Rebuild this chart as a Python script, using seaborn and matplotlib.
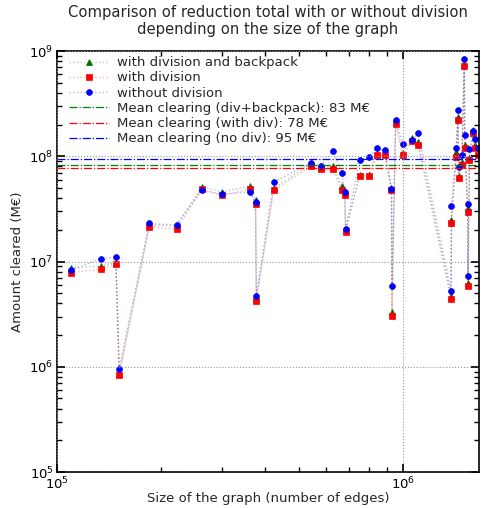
import numpy as np
import pandas as pd
import matplotlib
matplotlib.use("Agg")
import matplotlib.pyplot as plt
import seaborn as sns

# ---- data ----
edges = [1.097e5, 1.337e5, 1.48e5, 1.513e5, 1.848e5, 2.216e5, 2.62e5, 3.0e5,
         3.61e5, 3.75e5, 3.77e5, 4.23e5, 5.44e5, 5.78e5, 6.28e5, 6.67e5,
         6.79e5, 6.83e5, 7.5e5, 7.96e5, 8.4e5, 8.87e5, 9.27e5, 9.30e5,
         9.53e5, 1.0e6, 1.06e6, 1.107e6, 1.378e6, 1.382e6, 1.426e6, 1.442e6,
         1.449e6, 1.481e6, 1.505e6, 1.51e6, 1.538e6, 1.543e6, 1.558e6,
         1.600e6, 1.618e6, 1.646e6]

no_div = [8.3, 10.6, 11.0, 0.96, 23.0, 22.2, 47.7, 43.5, 46.0, 36.5, 4.7,
          57.0, 86.6, 81.0, 112, 68.7, 46.0, 20.3, 92, 97.5, 119, 114, 48.4,
          5.86, 223, 132, 144, 165, 5.28, 33.6, 119, 278, 79.3, 102, 847, 158,
          35.1, 7.28, 117, 174, 146, 119]

div_backpack = [8.6, 9.1, 9.7, 0.86, 22.0, 22.0, 51.3, 46.0, 52.0, 38.4, 4.4,
                50.0, 85.0, 79.0, 80.0, 52.0, 46.0, 20.0, 67, 67, 106, 106,
                50.0, 3.34, 210, 108, 150, 137, 4.74, 24.8, 109, 236, 64.7,
                88.5, 759, 127, 32.0, 6.25, 95.3, 177, 127, 108]

with_div = [7.85, 8.4, 9.5, 0.84, 21.4, 20.3, 48.4, 42.5, 48.4, 34.9, 4.25,
            47.7, 81.0, 75.0, 75.0, 47.7, 42.8, 19.2, 65, 65, 102, 102, 47.7,
            3.04, 202, 102, 139, 127, 4.38, 23.0, 98.7, 220, 62.4, 82.3, 716,
            119, 29.7, 5.86, 91.8, 165, 119, 102]

mean_labels = ["Mean clearing (div+backpack): 83 M€",
               "Mean clearing (with div): 78 M€",
               "Mean clearing (no div): 95 M€"]
mean_values = [83, 78, 95]  # M€

series_labels = ["with division and backpack", "with division", "without division"]

# ---- style ----
sns.set_style("ticks")
plt.rcParams.update({
    "font.family": ["DejaVu Sans"],
    "font.size": 9.5,
    "xtick.direction": "in",
    "ytick.direction": "in",
    "axes.edgecolor": "black",
    "axes.linewidth": 1.2,
})

fig = plt.figure(figsize=(4.82, 5.08), dpi=100)
ax = fig.add_axes([57 / 482, 1 - 472 / 508, 422 / 482, 421 / 508])

df = pd.DataFrame({"edges": edges,
                   "div_backpack": np.array(div_backpack) * 1e6,
                   "with_div": np.array(with_div) * 1e6,
                   "no_div": np.array(no_div) * 1e6})

specs = [("div_backpack", series_labels[0], (0.0, 0.42, 0.0), "^"),
         ("with_div", series_labels[1], (1.0, 0.0, 0.0), "s"),
         ("no_div", series_labels[2], (0.0, 0.0, 1.0), "o")]

for col, lab, c, m in specs:
    sns.lineplot(data=df, x="edges", y=col, ax=ax, estimator=None, sort=False,
                 color=(c[0], c[1], c[2], 0.3), linestyle=":", linewidth=1.0,
                 marker=m, markersize=4.2, markerfacecolor=c, markeredgecolor=c,
                 markeredgewidth=0.5, label=lab)

mean_colors = [(0.0, 0.5, 0.0), (1.0, 0.0, 0.0), (0.0, 0.0, 1.0)]
for v, lab, c in zip(mean_values, mean_labels, mean_colors):
    ax.axhline(v * 1e6, color=c, linestyle="-.", linewidth=0.9, label=lab)

ax.set_xscale("log")
ax.set_yscale("log")
ax.set_xlim(1e5, 1.66e6)
ax.set_ylim(1e5, 1e9)
ax.tick_params(which="major", direction="in", length=6, width=1.2,
               top=True, right=True, color="black", labelcolor="black",
               labelsize=9.5, pad=2.5)
ax.tick_params(which="minor", direction="in", length=3.5, width=1.0,
               top=True, right=True, color="black")
ax.set_axisbelow(False)
ax.grid(True, which="major", linestyle=":", color="0.6", linewidth=0.8)

ax.set_xlabel("Size of the graph (number of edges)", fontsize=9.5, labelpad=0)
ax.set_ylabel("Amount cleared (M€)", fontsize=9.5)
ax.set_title("Comparison of reduction total with or without division\n"
             "depending on the size of the graph", fontsize=10.6, pad=12)

ax.legend(loc="upper left", bbox_to_anchor=(0.007, 1.0095), frameon=False,
          handlelength=3, fontsize=9.5, handletextpad=0.6, labelspacing=0.17,
          borderaxespad=0.3)

fig.savefig("out.png", dpi=100)
